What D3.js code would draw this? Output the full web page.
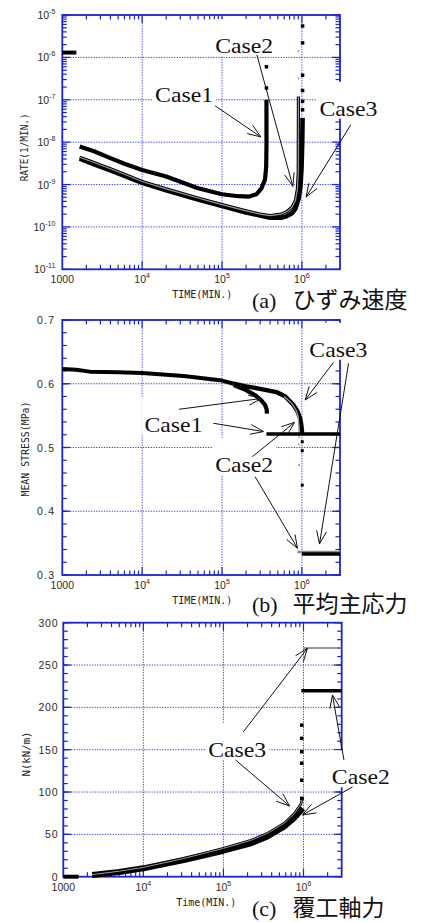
<!DOCTYPE html>
<html>
<head>
<meta charset="utf-8">
<script src="https://cdn.jsdelivr.net/npm/d3@7"></script>
<style>
  body { margin: 0; background: #fff; }
  svg { display: block; }
</style>
</head>
<body>
<svg width="421" height="922"></svg>
<script>
// ---------- data ----------
const timeDomain = [1000, 3e6];

// (a) strain rate, 1/min
const rateDomain = [1e-11, 1e-5];
const rateStart = [[1000, 1.3e-6], [1500, 1.3e-6]];
const rateCase1 = [[1650, 7.9e-9], [2500, 6.1e-9], [4000, 4.2e-9], [6000, 3.1e-9], [1e4, 2.2e-9], [2e4, 1.55e-9],
  [5e4, 8.2e-10], [1e5, 5.9e-10], [1.6e5, 5.3e-10], [2.2e5, 5.2e-10], [2.7e5, 5.9e-10], [3.1e5, 8.0e-10],
  [3.45e5, 1.3e-9], [3.57e5, 2.6e-9], [3.6e5, 8e-9], [3.6e5, 1e-7]];
const rateCase1Dots = [[3.6e5, 1.9e-7], [3.6e5, 6e-7]];
const rateCase2 = [[1650, 4.4e-9], [2500, 3.3e-9], [4000, 2.35e-9], [6000, 1.75e-9], [1e4, 1.18e-9], [2e4, 7.9e-10],
  [5e4, 4.8e-10], [1e5, 3.35e-10], [2e5, 2.4e-10], [3e5, 2.0e-10], [4e5, 1.85e-10], [5.5e5, 2.0e-10],
  [6.5e5, 2.3e-10], [7.5e5, 2.9e-10], [8.3e5, 4.2e-10], [8.8e5, 8e-10], [9e5, 2e-9], [9.05e5, 1.2e-7]];
const rateCase2Dots = [[9.05e5, 3.2e-7], [9.05e5, 1.4e-6]];
const rateCase3 = [[1650, 4.1e-9], [2500, 3.0e-9], [4000, 2.15e-9], [6000, 1.6e-9], [1e4, 1.1e-9], [2e4, 7.3e-10],
  [5e4, 4.4e-10], [1e5, 3.1e-10], [2e5, 2.2e-10], [3e5, 1.85e-10], [4e5, 1.65e-10], [5.5e5, 1.65e-10],
  [6.5e5, 1.8e-10], [7.5e5, 2.1e-10], [8.3e5, 2.7e-10], [9.1e5, 4.6e-10], [9.6e5, 9e-10], [9.9e5, 2.5e-9],
  [1.01e6, 1e-8], [1.02e6, 3.7e-8]];
const rateCase3Dots = [[1.02e6, 5.8e-8], [1.02e6, 9.2e-8], [1.02e6, 1.65e-7], [1.02e6, 3.8e-7], [1.02e6, 2.2e-6], [1.02e6, 5.5e-6]];

// (b) mean stress, MPa
const stressDomain = [0.3, 0.7];
const stressCommon = [[1000, 0.623], [1500, 0.622], [2200, 0.619], [5000, 0.618], [1e4, 0.617], [3.3e4, 0.612],
  [1e5, 0.605], [1.4e5, 0.6]];
const stressCase1 = [[1.4e5, 0.598], [2e5, 0.59], [2.6e5, 0.582], [3.1e5, 0.574], [3.45e5, 0.567], [3.62e5, 0.56], [3.65e5, 0.553]];
const stressCase1After = [[3.6e5, 0.521], [3e6, 0.521]];
const stressCase2 = [[6e5, 0.58], [7.5e5, 0.569], [8.5e5, 0.558], [9.0e5, 0.548], [9.15e5, 0.535], [9.2e5, 0.515]];
const stressCase2Dots = [[9.2e5, 0.505], [9.2e5, 0.4725]];
const stressCase2After = [[8.8e5, 0.336], [3e6, 0.336]];
const stressCase3 = [[1.4e5, 0.6], [2e5, 0.596], [3e5, 0.592], [4.8e5, 0.587], [6.2e5, 0.58], [7.8e5, 0.567],
  [8.8e5, 0.557], [9.5e5, 0.546], [9.9e5, 0.533], [1.01e6, 0.52]];
const stressCase3Dots = [[1.01e6, 0.509], [1.01e6, 0.495], [1.01e6, 0.441]];
const stressCase3After = [[1e6, 0.333], [3e6, 0.333]];

// (c) lining axial force, kN/m
const forceDomain = [0, 300];
const forceStart = [[1000, 0], [1550, 0]];
const forceCase2 = [[2300, 2], [5000, 5.5], [1e4, 9.9], [3.2e4, 19.7], [1e5, 30.7], [2.2e5, 39.4], [3.5e5, 47.3],
  [5.7e5, 59], [7.6e5, 69], [9.8e5, 80.8]];
const forceCase3 = [[2300, 2.5], [5000, 6.5], [1e4, 11], [3.2e4, 21.5], [1e5, 33.5], [2.2e5, 43], [3.5e5, 51],
  [5.7e5, 63], [7.6e5, 74], [9.3e5, 86], [9.8e5, 94]];
const forceDots = [[9.5e5, 92.6], [9.5e5, 114], [9.5e5, 134], [9.5e5, 147.6], [9.5e5, 163.4], [9.5e5, 179]];
const forceCase2After = [[9.4e5, 219.5], [3e6, 219.5]];
const forceCase3After = [[1e6, 270], [3e6, 270]];

// annotations (data coords)
const labelsA = [["Case1", 1.45e4, 9.1e-8], ["Case2", 8.2e4, 1.26e-6], ["Case3", 1.66e6, 4.2e-8]];
const arrowsA = [[8.2e4, 7.2e-8, 3.06e5, 1.33e-8], [2.73e5, 1.15e-6, 7.7e5, 9.1e-10], [4.1e6, 2.58e-8, 1.13e6, 5.1e-10]];
const labelsB = [["Case3", 1.24e6, 0.6424], ["Case1", 1.07e4, 0.5248], ["Case2", 8.2e4, 0.462]];
const arrowsB = [[2.9e4, 0.56, 3.15e5, 0.577], [7.8e4, 0.538, 3.3e5, 0.525], [2.4e5, 0.4856, 8.1e5, 0.5395],
  [2.6e5, 0.454, 8.8e5, 0.342], [2.49e6, 0.6337, 1.1e6, 0.5745], [3.84e6, 0.632, 1.66e6, 0.3486]];
const labelsC = [["Case3", 6.46e4, 141.7], ["Case2", 2.26e6, 109.1]];
const arrowsC = [[1.77e5, 171, 1.12e6, 269.8], [1.42e5, 137.8, 6.7e5, 83.5], [4.1e6, 106, 9.7e5, 72.9], [3.2e6, 137.8, 2.3e6, 214.6]];

// ---------- drawing ----------
const svg = d3.select("svg");
const frameColor = "#1c24cc", gridColor = "#3b45ee";
const tickFont = "'Liberation Sans', Arial, sans-serif";
const monoFont = "'DejaVu Sans Mono', monospace";

function sup(sel, base, exp) {
  sel.text(base);
  sel.append("tspan").attr("dy", -5).attr("font-size", 7).text(exp);
}

function drawPanel(p) {
  const g = svg.append("g");
  const x = d3.scaleLog().domain(timeDomain).range([p.left, p.right]);
  const y = p.y.range([p.bottom, p.top]);
  const isDecade = v => Math.abs(Math.log10(v) - Math.round(Math.log10(v))) < 1e-9;

  const xAll = x.ticks().filter(t => t > timeDomain[0] && t < timeDomain[1]);
  const xMajor = xAll.filter(isDecade);
  const xMinor = xAll.filter(t => !isDecade(t));
  const yMajor = p.yMajor(y);
  const yMinor = p.yMinor(y);

  // dotted grid
  g.selectAll(".gx").data(xMajor).enter().append("line")
    .attr("x1", d => x(d)).attr("x2", d => x(d)).attr("y1", p.top).attr("y2", p.bottom)
    .attr("stroke", gridColor).attr("stroke-width", 1).attr("stroke-dasharray", "1.3,1.3");
  g.selectAll(".gy").data(yMajor.slice(1, -1)).enter().append("line")
    .attr("y1", d => y(d)).attr("y2", d => y(d)).attr("x1", p.left).attr("x2", p.right)
    .attr("stroke", gridColor).attr("stroke-width", 1).attr("stroke-dasharray", "1.3,1.3");

  // inside ticks on all four sides
  const ticks = g.append("g").attr("stroke", frameColor).attr("stroke-width", 1.2);
  [[xMinor, 4.5], [xMajor, 8]].forEach(([arr, len]) => {
    arr.forEach(t => {
      ticks.append("line").attr("x1", x(t)).attr("x2", x(t)).attr("y1", p.bottom).attr("y2", p.bottom - len);
      ticks.append("line").attr("x1", x(t)).attr("x2", x(t)).attr("y1", p.top).attr("y2", p.top + len);
    });
  });
  [[yMinor, 4.5], [yMajor, 8]].forEach(([arr, len]) => {
    arr.forEach(t => {
      ticks.append("line").attr("y1", y(t)).attr("y2", y(t)).attr("x1", p.left).attr("x2", p.left + len);
      ticks.append("line").attr("y1", y(t)).attr("y2", y(t)).attr("x1", p.right).attr("x2", p.right - len);
    });
  });

  g.append("rect").attr("x", p.left).attr("y", p.top)
    .attr("width", p.right - p.left).attr("height", p.bottom - p.top)
    .attr("fill", "none").attr("stroke", frameColor).attr("stroke-width", 1.8);

  // tick labels
  const xl = g.append("g").attr("font-family", tickFont).attr("font-size", 10.5).attr("fill", "#2a2a2a")
    .attr("text-anchor", "middle");
  [timeDomain[0]].concat(xMajor).forEach((t, i) => {
    const tx = xl.append("text").attr("x", x(t)).attr("y", p.bottom + 14);
    if (i === 0) tx.text("1000"); else sup(tx, "10", Math.round(Math.log10(t)));
  });
  const yl = g.append("g").attr("font-family", tickFont).attr("font-size", 10.5).attr("fill", "#2a2a2a")
    .attr("text-anchor", "end").attr("letter-spacing", p.yLetter || 0);
  yMajor.forEach(t => {
    const ty = yl.append("text").attr("x", p.left - p.yLabelGap).attr("y", y(t) + 4);
    if (p.logY) sup(ty, "10", Math.round(Math.log10(t))); else ty.text(p.yFormat(t));
  });

  // axis titles
  g.append("text").attr("x", p.xTitleX).attr("y", p.bottom + 29)
    .attr("text-anchor", "middle").attr("font-family", monoFont).attr("font-size", 10.5).attr("fill", "#222")
    .attr("textLength", 60).attr("lengthAdjust", "spacingAndGlyphs").text(p.xTitle);
  g.append("text").attr("transform", `translate(${p.yTitleX},${p.yTitleY}) rotate(-90)`)
    .attr("text-anchor", "middle").attr("font-family", monoFont).attr("font-size", 10.5).attr("fill", "#222")
    .attr("textLength", p.yTitleLen).attr("lengthAdjust", "spacingAndGlyphs").text(p.yTitle);

  // curves
  const line = d3.line().x(d => x(d[0])).y(d => y(d[1]));
  p.lines.forEach(s => {
    g.append("path").datum(s.data).attr("d", line).attr("fill", "none")
      .attr("stroke", s.color).attr("stroke-width", s.width).attr("stroke-linejoin", "round");
  });
  p.dots.forEach(s => {
    g.selectAll(null).data(s.data).enter().append("rect")
      .attr("x", d => x(d[0]) - s.size / 2).attr("y", d => y(d[1]) - s.size / 2)
      .attr("width", s.size).attr("height", s.size).attr("fill", s.color);
  });

  // labels on white boxes
  p.labels.forEach(([txt, t, v]) => {
    g.append("rect").attr("x", x(t) - 3).attr("y", y(v) - 34).attr("width", 64).attr("height", 37).attr("fill", "#fff");
    g.append("text").attr("x", x(t)).attr("y", y(v))
      .attr("font-family", "'Liberation Serif', 'Times New Roman', serif").attr("font-size", 22)
      .attr("textLength", 58).attr("lengthAdjust", "spacingAndGlyphs").attr("fill", "#111").text(txt);
  });

  // arrows with open heads
  p.arrows.forEach(([t1, v1, t2, v2]) => {
    const x1 = x(t1), y1 = y(v1), x2 = x(t2), y2 = y(v2);
    const a = Math.atan2(y2 - y1, x2 - x1);
    g.append("line").attr("x1", x1).attr("y1", y1).attr("x2", x2).attr("y2", y2)
      .attr("stroke", "#111").attr("stroke-width", 1);
    [-0.36, 0.36].forEach(da => {
      g.append("line").attr("x1", x2).attr("y1", y2)
        .attr("x2", x2 - 14 * Math.cos(a + da)).attr("y2", y2 - 14 * Math.sin(a + da))
        .attr("stroke", "#111").attr("stroke-width", 1);
    });
  });

  // caption
  g.append("text").attr("x", 252).attr("y", p.capY).attr("fill", "#111")
    .attr("font-family", "'Liberation Serif', serif").attr("font-size", 22).text(p.capTag);
  g.append("text").attr("x", 292.5).attr("y", p.capY).attr("fill", "#111")
    .attr("font-family", "'Noto Sans CJK JP', sans-serif").attr("font-size", 23).text(p.capText);
}

const black = "#000", gray = "#9a9a9a";

drawPanel({
  left: 62.3, right: 340, top: 15, bottom: 269.3,
  y: d3.scaleLog().domain(rateDomain), logY: true,
  yMajor: y => y.ticks().filter(t => Math.abs(Math.log10(t) - Math.round(Math.log10(t))) < 1e-9),
  yMinor: y => y.ticks().filter(t => Math.abs(Math.log10(t) - Math.round(Math.log10(t))) > 1e-9),
  yLabelGap: 7,
  xTitle: "TIME(MIN.)", xTitleX: 202.3,
  yTitle: "RATE(1/MIN.)", yTitleX: 28, yTitleY: 147.3, yTitleLen: 68,
  lines: [
    { data: rateStart, color: black, width: 4 },
    { data: rateCase1, color: black, width: 4.2 },
    { data: rateCase3, color: black, width: 4.6 },
    { data: rateCase2, color: black, width: 3.2 },
    { data: rateCase2, color: gray, width: 1.2 }
  ],
  dots: [
    { data: rateCase1Dots, color: black, size: 3.5 },
    { data: rateCase3Dots, color: black, size: 3.5 },
    { data: rateCase2Dots, color: gray, size: 1.8 }
  ],
  labels: labelsA, arrows: arrowsA,
  capY: 308, capTag: "(a)", capText: "ひずみ速度"
});

drawPanel({
  left: 62.3, right: 340, top: 320, bottom: 575,
  y: d3.scaleLinear().domain(stressDomain), logY: false,
  yMajor: y => y.ticks(4), yMinor: y => y.ticks(20),
  yFormat: d3.format(".1f"), yLabelGap: 7, yLetter: 1.2,
  xTitle: "TIME(MIN.)", xTitleX: 202.3,
  yTitle: "MEAN STRESS(MPa)", yTitleX: 29, yTitleY: 449, yTitleLen: 95,
  lines: [
    { data: stressCommon, color: black, width: 4 },
    { data: stressCase1, color: black, width: 4.2 },
    { data: stressCase3, color: black, width: 4.4 },
    { data: stressCase2, color: gray, width: 1.3 },
    { data: stressCase1After, color: black, width: 3.5 },
    { data: stressCase2After, color: "#888", width: 2.5 },
    { data: stressCase3After, color: black, width: 3.5 }
  ],
  dots: [
    { data: stressCase3Dots, color: black, size: 3 },
    { data: stressCase2Dots, color: gray, size: 1.8 }
  ],
  labels: labelsB, arrows: arrowsB,
  capY: 612, capTag: "(b)", capText: "平均主応力"
});

drawPanel({
  left: 63.3, right: 341.7, top: 622.7, bottom: 876.7,
  y: d3.scaleLinear().domain(forceDomain), logY: false,
  yMajor: y => y.ticks(6), yMinor: y => y.ticks(30),
  yFormat: d3.format("d"), yLabelGap: 5, yLetter: 0.8,
  xTitle: "Time(MIN.)", xTitleX: 206.3,
  yTitle: "N(kN/m)", yTitleX: 30, yTitleY: 754, yTitleLen: 45,
  lines: [
    { data: forceStart, color: black, width: 4 },
    { data: forceCase2, color: black, width: 6 },
    { data: forceCase3, color: black, width: 2.6 },
    { data: forceCase3, color: gray, width: 1 },
    { data: forceCase2After, color: black, width: 3.5 },
    { data: forceCase3After, color: "#777", width: 1.5 }
  ],
  dots: [
    { data: forceDots, color: black, size: 3.5 }
  ],
  labels: labelsC, arrows: arrowsC,
  capY: 916, capTag: "(c)", capText: "覆工軸力"
});
</script>
</body>
</html>
